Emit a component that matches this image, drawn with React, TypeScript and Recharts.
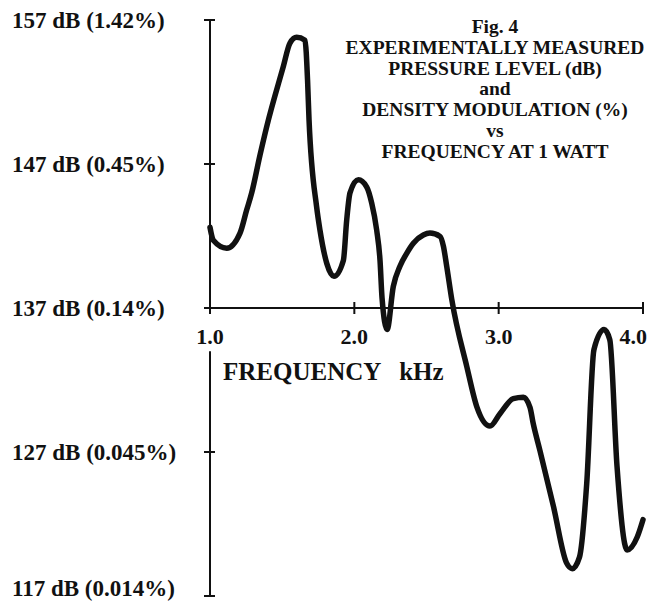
import { LineChart, Line, XAxis, YAxis, ReferenceLine, ReferenceDot } from "recharts";

// frequency (kHz) and measured pressure level (dB)
const FREQ_KHZ = [
  1.0, 1.023, 1.116, 1.208, 1.254, 1.289, 1.346, 1.393, 1.506, 1.554, 1.6, 1.658, 1.676, 1.686, 1.739, 1.762,
  1.809, 1.859, 1.924, 1.947, 1.97, 2.028, 2.086, 2.12, 2.155, 2.178, 2.192, 2.227, 2.27, 2.316, 2.363, 2.409,
  2.478, 2.524, 2.594, 2.617, 2.64, 2.675, 2.78, 2.85, 2.94, 3.009, 3.101, 3.171, 3.217, 3.24, 3.286, 3.38,
  3.47, 3.51, 3.56, 3.61, 3.66, 3.73, 3.77, 3.82, 3.89, 3.96, 4.0,
];
const LEVEL_DB = [
  142.6, 141.7, 141.15, 142.2, 143.8, 145.0, 147.6, 149.6, 153.7, 155.4, 155.8, 155.6, 152.8, 150.1, 144.0, 142.4,
  140.1, 139.2, 140.3, 143.1, 145.0, 145.9, 145.4, 144.3, 142.4, 140.3, 137.7, 135.5, 138.5, 139.9, 140.8, 141.5,
  142.07, 142.2, 141.97, 141.3, 139.9, 137.6, 132.9, 130.1, 128.8, 129.66, 130.7, 130.8, 130.1, 128.95, 127.1, 123.2,
  119.3, 118.9, 119.7, 124.8, 134.1, 135.5, 134.8, 126.0, 120.2, 121.1, 122.3,
];

const X_TICKS = [1, 2, 3, 4];
const X_TICK_LABELS = ["1.0", "2.0", "3.0", "4.0"];
const Y_TICKS = [157, 147, 137, 127, 117];
const Y_TICK_LABELS = ["157 dB (1.42%)", "147 dB (0.45%)", "137 dB (0.14%)", "127 dB (0.045%)", "117 dB (0.014%)"];
const TITLE_LINES = [
  "Fig. 4",
  "EXPERIMENTALLY MEASURED",
  "PRESSURE LEVEL (dB)",
  "and",
  "DENSITY MODULATION (%)",
  "vs",
  "FREQUENCY AT 1 WATT",
];

const INK = "#111";
const FONT = '"Liberation Serif", "Times New Roman", serif';

const data = FREQ_KHZ.map((f, i) => ({ f, db: LEVEL_DB[i] }));

const yTick = (label: string) => (p: any) => (
  <g>
    <line x1={p.cx - 6} x2={p.cx + 5} y1={p.cy} y2={p.cy} stroke={INK} strokeWidth={2} />
    <text x={12} y={Math.min(p.cy, 588)} dy="0.35em" fontFamily={FONT} fontWeight="bold" fontSize={23} fill={INK}>
      {label}
    </text>
  </g>
);

const xTick = (label: string, last: boolean) => (p: any) => (
  <g>
    <line x1={p.cx} x2={p.cx} y1={p.cy - 6} y2={p.cy + 6} stroke={INK} strokeWidth={2} />
    <text
      x={last ? p.cx + 4 : p.cx}
      y={p.cy + 28}
      dy="0.35em"
      textAnchor={last ? "end" : "middle"}
      fontFamily={FONT}
      fontWeight="bold"
      fontSize={22}
      fill={INK}
    >
      {label}
    </text>
  </g>
);

export default function App() {
  return (
    <div style={{ position: "absolute", left: 0, top: 0, width: 651, height: 602, background: "#fff" }}>
      <LineChart width={651} height={602} data={data} margin={{ top: 20, right: 8, bottom: 6, left: 210 }}>
        <XAxis dataKey="f" type="number" domain={[1, 4]} hide />
        <YAxis type="number" domain={[117, 157]} hide />
        <ReferenceLine y={137} stroke={INK} strokeWidth={2} />
        <ReferenceLine segment={[{ x: 1, y: 157 }, { x: 1, y: 137 }]} stroke={INK} strokeWidth={2} />
        <ReferenceLine segment={[{ x: 1, y: 134 }, { x: 1, y: 117 }]} stroke={INK} strokeWidth={2} />
        {Y_TICKS.map((v, i) => (
          <ReferenceDot key={`y${v}`} x={1} y={v} r={1} shape={yTick(Y_TICK_LABELS[i])} />
        ))}
        {X_TICKS.map((v, i) => (
          <ReferenceDot key={`x${v}`} x={v} y={137} r={1} shape={xTick(X_TICK_LABELS[i], i === X_TICKS.length - 1)} />
        ))}
        <Line
          dataKey="db"
          type="monotone"
          dot={false}
          stroke={INK}
          strokeWidth={5.5}
          strokeLinejoin="round"
          strokeLinecap="round"
          isAnimationActive={false}
        />
      </LineChart>
      <div
        style={{
          position: "absolute",
          left: 325,
          top: 17,
          width: 340,
          textAlign: "center",
          fontFamily: FONT,
          fontWeight: "bold",
          fontSize: 19.5,
          lineHeight: "20.8px",
          color: INK,
          whiteSpace: "nowrap",
        }}
      >
        {TITLE_LINES.map(t => (
          <div key={t}>{t}</div>
        ))}
      </div>
      <div
        style={{
          position: "absolute",
          left: 223,
          top: 359,
          fontFamily: FONT,
          fontWeight: "bold",
          fontSize: 25,
          lineHeight: 1,
          color: INK,
          whiteSpace: "pre",
        }}
      >
        {"FREQUENCY   kHz"}
      </div>
    </div>
  );
}
